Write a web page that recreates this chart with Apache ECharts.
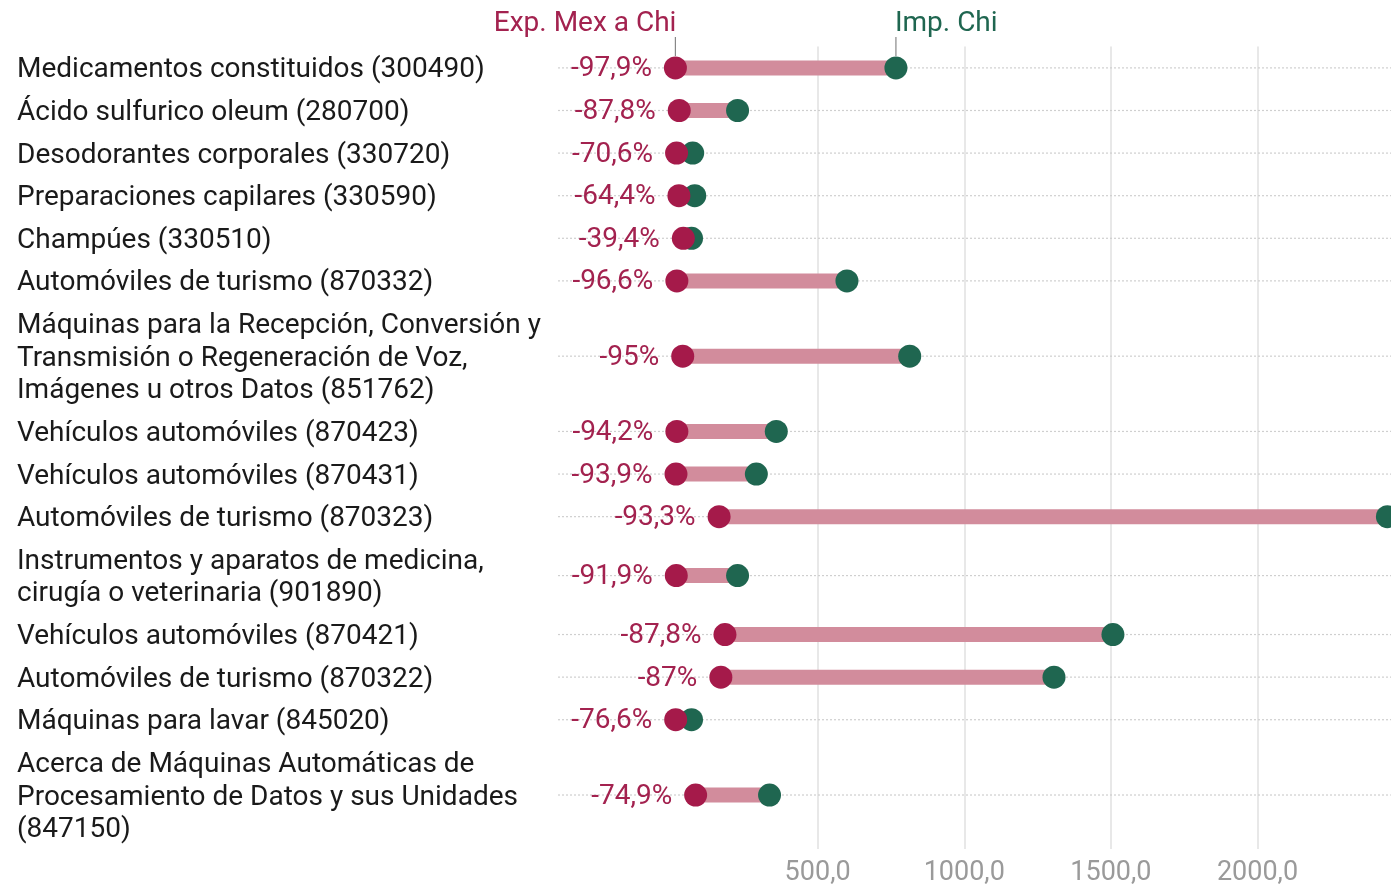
<!DOCTYPE html>
<html>
<head>
<meta charset="utf-8">
<script src="https://cdn.jsdelivr.net/npm/echarts@6/dist/echarts.min.js"></script>
<style>
html,body{margin:0;padding:0;background:#fff;}
#chart{width:1391px;height:887px;}
</style>
</head>
<body>
<div id="chart"></div>
<script>
const categories = [
  'Medicamentos constituidos (300490)',
  'Ácido sulfurico oleum (280700)',
  'Desodorantes corporales (330720)',
  'Preparaciones capilares (330590)',
  'Champúes (330510)',
  'Automóviles de turismo (870332)',
  'Máquinas para la Recepción, Conversión y\nTransmisión o Regeneración de Voz,\nImágenes u otros Datos (851762)',
  'Vehículos automóviles (870423)',
  'Vehículos automóviles (870431)',
  'Automóviles de turismo (870323)',
  'Instrumentos y aparatos de medicina,\ncirugía o veterinaria (901890)',
  'Vehículos automóviles (870421)',
  'Automóviles de turismo (870322)',
  'Máquinas para lavar (845020)',
  'Acerca de Máquinas Automáticas de\nProcesamiento de Datos y sus Unidades\n(847150)'
];
const expMexChi = [15, 28, 19, 27, 42, 20, 40, 20, 17, 164, 18, 184, 170, 16, 84];
const impChi = [767, 227, 74, 81, 70, 600, 814, 359, 291, 2443, 227, 1507, 1306, 70, 336];
const pctLabels = ['-97,9%', '-87,8%', '-70,6%', '-64,4%', '-39,4%', '-96,6%', '-95%', '-94,2%', '-93,9%', '-93,3%', '-91,9%', '-87,8%', '-87%', '-76,6%', '-74,9%'];
const xTicks = [500, 1000, 1500, 2000];

const RED = '#a51a4a', GREEN = '#1f6650', PINK = '#d28c9c', TXT_RED = '#a3224f';
const FONT = 'Roboto';
const FS = 28;

// vertical slot for each row derived from its number of label lines
const lineCounts = categories.map(c => c.split('\n').length);
const heights = lineCounts.map(n => 10 + 33 * n);
const centers = [];
let acc = 0;
heights.forEach(h => { centers.push(acc + h / 2); acc += h; });
const total = acc;

const rowData = categories.map((c, i) => [expMexChi[i], impChi[i], centers[i], i]);

const chart = echarts.init(document.getElementById('chart'));
chart.setOption({
  animation: false,
  grid: { left: 671, right: 0, top: 46.6, bottom: 35.8 },
  xAxis: {
    type: 'value', min: 0, max: 2445, interval: 500,
    axisLine: { show: false }, axisTick: { show: false },
    axisLabel: {
      fontFamily: FONT, fontSize: 27, color: '#9a9a9a', margin: 11,
      formatter: v => xTicks.indexOf(v) >= 0 ? v.toFixed(1).replace('.', ',') : ''
    },
    splitLine: { show: true, showMinLine: false, showMaxLine: false, lineStyle: { color: '#e0e0e0', width: 1.5 } }
  },
  yAxis: { type: 'value', inverse: true, min: 0, max: total, show: false },
  series: [
    {
      type: 'custom', clip: false, z: 1,
      data: rowData,
      renderItem: function (params, api) {
        const a = api.coord([api.value(0), api.value(2)]);
        const b = api.coord([api.value(1), api.value(2)]);
        const y = a[1];
        const idx = api.value(3);
        const children = [
          { type: 'line', shape: { x1: 558, y1: y, x2: 1391, y2: y },
            style: { stroke: '#cfcfcf', lineWidth: 1.2, lineDash: [2, 2] } },
          { type: 'rect', shape: { x: a[0], y: y - 7.5, width: b[0] - a[0], height: 15 },
            style: { fill: PINK } },
          { type: 'text', x: 17, y: y + 2.5,
            style: { text: categories[idx], fontFamily: FONT, fontSize: FS, fill: '#1a1a1a',
                     align: 'left', verticalAlign: 'middle', lineHeight: 32.5 } }
        ];
        if (idx === 0) {
          children.push(
            { type: 'line', shape: { x1: a[0], y1: y - 31, x2: a[0], y2: y - 12 }, style: { stroke: '#888', lineWidth: 1.2 } },
            { type: 'line', shape: { x1: b[0], y1: y - 31, x2: b[0], y2: y - 12 }, style: { stroke: '#888', lineWidth: 1.2 } },
            { type: 'text', x: a[0] + 1, y: y - 44,
              style: { text: 'Exp. Mex a Chi', fontFamily: FONT, fontSize: FS, fill: TXT_RED, align: 'right', verticalAlign: 'middle' } },
            { type: 'text', x: b[0] - 1, y: y - 44,
              style: { text: 'Imp. Chi', fontFamily: FONT, fontSize: FS, fill: GREEN, align: 'left', verticalAlign: 'middle' } }
          );
        }
        return { type: 'group', children: children };
      }
    },
    {
      name: 'Imp. Chi', type: 'scatter', z: 3, clip: false,
      symbolSize: 23, itemStyle: { color: GREEN, opacity: 1 },
      data: impChi.map((v, i) => [v, centers[i]])
    },
    {
      name: 'Exp. Mex a Chi', type: 'scatter', z: 4, clip: false,
      symbolSize: 23, itemStyle: { color: RED, opacity: 1 },
      data: expMexChi.map((v, i) => [v, centers[i]]),
      label: {
        show: true, position: 'left', distance: 12, offset: [0, 1.5],
        fontFamily: FONT, fontSize: FS, color: TXT_RED,
        formatter: p => pctLabels[p.dataIndex]
      }
    }
  ]
});
</script>
</body>
</html>
